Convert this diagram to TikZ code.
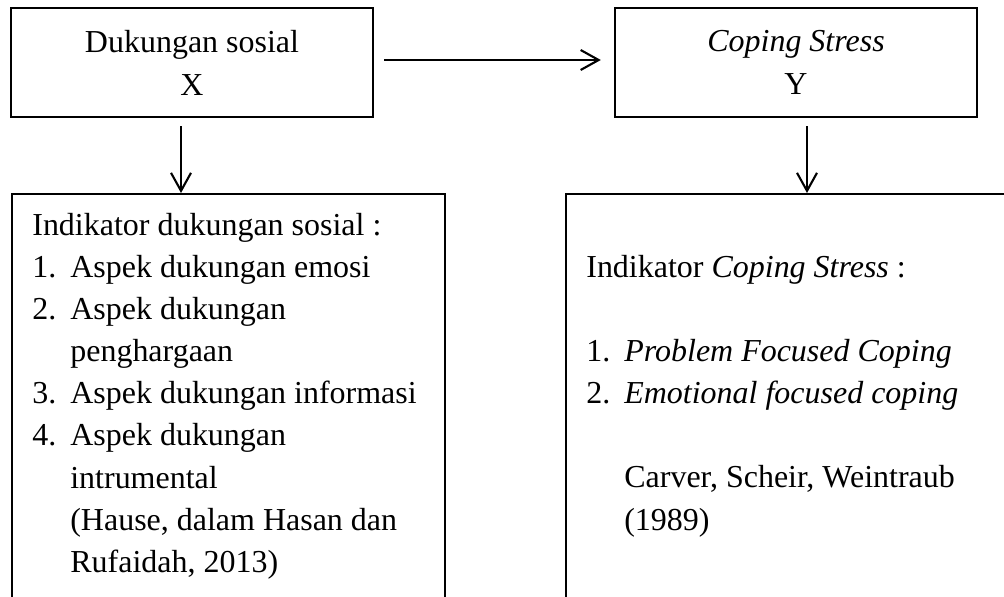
\documentclass[tikz,border=0pt]{standalone}
\usepackage{fontspec}
\setmainfont{Liberation Serif}
\usepackage{tikz}
\usetikzlibrary{arrows.meta}

\begin{document}
\begin{tikzpicture}[x=0.02cm,y=-0.02cm,
        kotak/.style={draw=black,line width=1.4pt,rectangle,inner sep=0pt},
        panah/.style={line width=1.2pt,-{Straight Barb[length=0.36cm,width=0.4cm]}},
        teks/.style={inner sep=0pt,font=\fontsize{18.2}{24}\selectfont}]
                \useasboundingbox (0,0) rectangle (1004,596);
                \clip (0,0) rectangle (1004,596);
                \node[kotak,minimum width=7.24cm,minimum height=2.18cm,align=center,font=\fontsize{18.2}{24.5}\selectfont] (dukungan) at (192,62.5) {Dukungan sosial\\X};
                \node[kotak,minimum width=7.24cm,minimum height=2.18cm,align=center,font=\fontsize{18.2}{24.5}\selectfont] (coping) at (796,62.5) {\textit{Coping Stress}\\Y};
                \node[kotak,anchor=north west,minimum width=8.66cm,minimum height=9cm] (indikatorx) at (11,193) {};
                \node[kotak,anchor=north west,minimum width=9.6cm,minimum height=9cm] (indikatory) at (565,193) {};
                \node[teks,anchor=base west] (daftarx) at (32,235) {\begin{tabular}[t]{@{}p{0.76cm}@{}l@{}}
                        \multicolumn{2}{@{}l@{}}{Indikator dukungan sosial :}\\
                        1. & Aspek dukungan emosi\\
                        2. & Aspek dukungan\\
                           & penghargaan\\
                        3. & Aspek dukungan informasi\\
                        4. & Aspek dukungan\\
                           & intrumental\\
                           & (Hause, dalam Hasan dan\\
                           & Rufaidah, 2013)
                \end{tabular}};
                \node[teks,anchor=base west] (daftary) at (586,277) {\begin{tabular}[t]{@{}p{0.76cm}@{}l@{}}
                        \multicolumn{2}{@{}l@{}}{Indikator \textit{Coping Stress} :}\\
                        & \\
                        1. & \textit{Problem Focused Coping}\\
                        2. & \textit{Emotional focused coping}\\
                        & \\
                           & Carver, Scheir, Weintraub\\
                           & (1989)
                \end{tabular}};
                \coordinate (kiri) at ([xshift=-0.22cm]dukungan.south);
                \coordinate (kanan) at ([xshift=0.22cm]coping.south);
                \draw[panah,shorten <=0.2cm,shorten >=0.26cm] ([yshift=0.05cm]dukungan.east) -- ([yshift=0.05cm]coping.west);
                \draw[panah,shorten <=0.16cm] (kiri) -- (kiri |- indikatorx.north);
                \draw[panah,shorten <=0.16cm] (kanan) -- (kanan |- indikatory.north);
\end{tikzpicture}
\end{document}
